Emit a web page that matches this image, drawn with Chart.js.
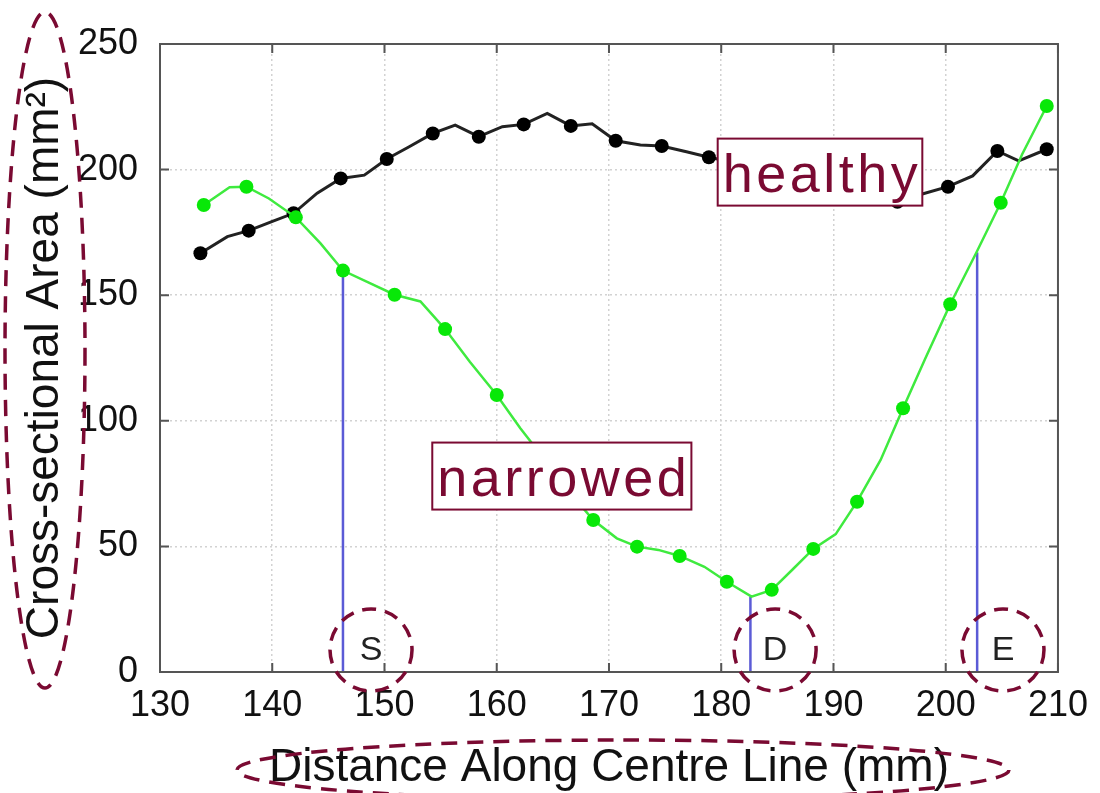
<!DOCTYPE html>
<html>
<head>
<meta charset="utf-8">
<script src="https://cdn.jsdelivr.net/npm/chart.js@4.4.1/dist/chart.umd.min.js"></script>
<style>
  html, body { margin: 0; padding: 0; background: #fff; }
</style>
</head>
<body>
<canvas id="myChart" width="1100" height="793"></canvas>
<script>
// healthy vessel, every other vertex carries a marker
const healthyX = [133.6, 136.0, 137.9, 139.9, 141.9, 144.0, 146.1, 148.2, 150.2, 152.2,
  154.3, 156.3, 158.4, 160.5, 162.4, 164.5, 166.6, 168.5, 170.6, 172.8,
  174.7, 176.9, 178.9, 181.0, 183.1, 185.2, 187.3, 189.4, 191.5, 193.6,
  195.7, 197.6, 200.2, 202.4, 204.6, 206.5, 209.0]
const healthyY = [166.7, 173.3, 175.7, 179.2, 182.6, 190.6, 196.5, 197.8, 204.2, 209.1,
  214.4, 217.7, 213.1, 217.1, 218.0, 222.4, 217.4, 218.2, 211.5, 209.8,
  209.4, 207.1, 204.9, 203.0, 201.0, 198.0, 195.0, 192.0, 190.0, 188.0,
  187.2, 189.9, 193.2, 197.5, 207.4, 203.5, 208.1]

// narrowed vessel
const narrowedX = [133.9, 136.2, 137.7, 139.7, 142.1, 144.3, 146.3, 148.6, 150.9, 153.2,
  155.4, 157.6, 160.0, 162.1, 164.2, 166.4, 168.6, 170.7, 172.5, 174.4,
  176.3, 178.5, 180.5, 182.7, 184.5, 186.4, 188.2, 190.2, 192.1, 194.2,
  196.2, 198.2, 200.4, 202.7, 204.9, 206.8, 209.0]
const narrowedY = [185.9, 193.0, 193.2, 188.5, 181.0, 170.6, 159.8, 155.0, 150.2, 147.5,
  136.5, 123.5, 110.3, 97.0, 85.0, 72.0, 60.5, 53.2, 49.9, 48.6,
  46.2, 41.9, 35.9, 30.0, 32.7, 41.0, 49.0, 54.9, 67.8, 84.4,
  105.0, 125.0, 146.4, 166.7, 186.8, 206.0, 225.3]

// start / deepest / end markers
const markNames = ['S', 'D', 'E']
const markX = [146.3, 182.6, 202.8]
const markTop = [160, 30, 167]
const markLabelX = [148.8, 184.8, 205.1]

const boxTexts = ['healthy', 'narrowed']
const boxX = [188.8, 165.8]
const boxY = [199, 78]

const xTicks = [130, 140, 150, 160, 170, 180, 190, 200, 210]
const yTicks = [0, 50, 100, 150, 200, 250]

const maroon = '#7a0a32'
const font = 'Liberation Sans, Arial, sans-serif'

const toPoints = (xs, ys) => xs.map((x, i) => ({x, y: ys[i]}))

const markerRadius = (ctx) => ctx.dataIndex % 2 === 0 ? 7 : 0

const markerSets = markX.map((x, i) => ({
  data: [{x, y: 0}, {x, y: markTop[i]}],
  showLine: true,
  borderColor: '#5b5bd6',
  borderWidth: 2.5,
  pointRadius: 0,
  order: 3,
}))

const ellipse = (ctx, cx, cy, rx, ry) => {
  ctx.beginPath()
  ctx.ellipse(cx, cy, rx, ry, 0, 0, Math.PI * 2)
  ctx.stroke()
}

const decor = {
  id: 'decor',
  afterDatasetsDraw(chart) {
    const {ctx, chartArea: a, scales: {x, y}} = chart
    ctx.save()
    // frame with inward ticks
    ctx.strokeStyle = '#555'
    ctx.lineWidth = 2
    ctx.strokeRect(a.left, a.top, a.right - a.left, a.bottom - a.top)
    ctx.beginPath()
    x.ticks.forEach(t => {
      const px = x.getPixelForValue(t.value)
      ctx.moveTo(px, a.bottom); ctx.lineTo(px, a.bottom - 9)
      ctx.moveTo(px, a.top); ctx.lineTo(px, a.top + 9)
    })
    y.ticks.forEach(t => {
      const py = y.getPixelForValue(t.value)
      ctx.moveTo(a.left, py); ctx.lineTo(a.left + 9, py)
      ctx.moveTo(a.right, py); ctx.lineTo(a.right - 9, py)
    })
    ctx.stroke()

    // boxed labels
    ctx.font = '54px ' + font
    ctx.letterSpacing = '3.5px'
    ctx.textAlign = 'center'
    ctx.textBaseline = 'alphabetic'
    boxTexts.forEach((txt, i) => {
      const cx = x.getPixelForValue(boxX[i])
      const cy = y.getPixelForValue(boxY[i])
      const w = ctx.measureText(txt).width + 6
      const h = 67
      ctx.fillStyle = '#fff'
      ctx.fillRect(cx - w / 2, cy - h / 2, w, h)
      ctx.strokeStyle = maroon
      ctx.lineWidth = 2
      ctx.strokeRect(cx - w / 2, cy - h / 2, w, h)
      ctx.fillStyle = maroon
      ctx.fillText(txt, cx + 2, cy + 20)
    })
    ctx.letterSpacing = '0px'

    // S / D / E with dashed circles
    ctx.font = '34px ' + font
    ctx.textBaseline = 'middle'
    markNames.forEach((name, i) => {
      const cx = x.getPixelForValue(markLabelX[i])
      const cy = a.bottom - 21
      ctx.fillStyle = '#222'
      ctx.fillText(name, cx, cy)
      ctx.strokeStyle = maroon
      ctx.lineWidth = 3.5
      ctx.setLineDash([14, 9])
      ellipse(ctx, cx, cy - 1, 41, 41)
      ctx.setLineDash([])
    })
    ctx.restore()
  },
  afterDraw(chart) {
    const {ctx, chartArea: a} = chart
    ctx.save()
    ctx.strokeStyle = maroon
    ctx.lineWidth = 3.5
    ctx.setLineDash([16, 10])
    ellipse(ctx, a.left - 115, (a.top + a.bottom) / 2 - 8, 40, 338)
    ellipse(ctx, (a.left + a.right) / 2 + 14, a.bottom + 98, 386, 30)
    ctx.restore()
  }
}

const ctx = document.getElementById('myChart').getContext('2d')
const myChart = new Chart(ctx, {
  type: 'scatter',
  data: {
    datasets: [
      {
        label: 'narrowed',
        data: toPoints(narrowedX, narrowedY),
        showLine: true,
        borderColor: '#3fea3f',
        borderWidth: 2.5,
        pointBackgroundColor: '#08e808',
        pointBorderWidth: 0,
        pointRadius: markerRadius,
        order: 1,
      },
      {
        label: 'healthy',
        data: toPoints(healthyX, healthyY),
        showLine: true,
        borderColor: '#222',
        borderWidth: 3,
        pointBackgroundColor: '#000',
        pointBorderWidth: 0,
        pointRadius: markerRadius,
        order: 2,
      },
      ...markerSets,
    ]
  },
  options: {
    responsive: false,
    animation: false,
    layout: { padding: { top: 44, right: 40, left: 0, bottom: 0 } },
    plugins: { legend: { display: false }, tooltip: { enabled: false } },
    scales: {
      x: {
        type: 'linear',
        min: 130,
        max: 210,
        afterBuildTicks: (scale) => { scale.ticks = xTicks.map(value => ({value})) },
        afterFit: (scale) => { scale.height = 121 },
        grid: { color: '#d2d2d2', lineWidth: 1.5, drawTicks: false },
        border: { display: false, dash: [2, 3] },
        ticks: { color: '#111', font: { family: font, size: 36 }, padding: 12, maxRotation: 0 },
        title: {
          display: true,
          text: 'Distance Along Centre Line (mm)',
          color: '#111',
          font: { family: font, size: 46, lineHeight: 1 },
          padding: { top: 0, bottom: 2 },
        },
      },
      y: {
        type: 'linear',
        min: 0,
        max: 250,
        afterBuildTicks: (scale) => { scale.ticks = yTicks.map(value => ({value})) },
        afterFit: (scale) => { scale.width = 160 },
        grid: { color: '#d2d2d2', lineWidth: 1.5, drawTicks: false },
        border: { display: false, dash: [2, 3] },
        ticks: { color: '#111', font: { family: font, size: 36 }, padding: 22 },
        title: {
          display: true,
          text: 'Cross-sectional Area (mm²)',
          color: '#111',
          font: { family: font, size: 46, lineHeight: 1 },
          padding: { top: 22, bottom: 0 },
        },
      },
    },
  },
  plugins: [decor],
})
</script>
</body>
</html>
